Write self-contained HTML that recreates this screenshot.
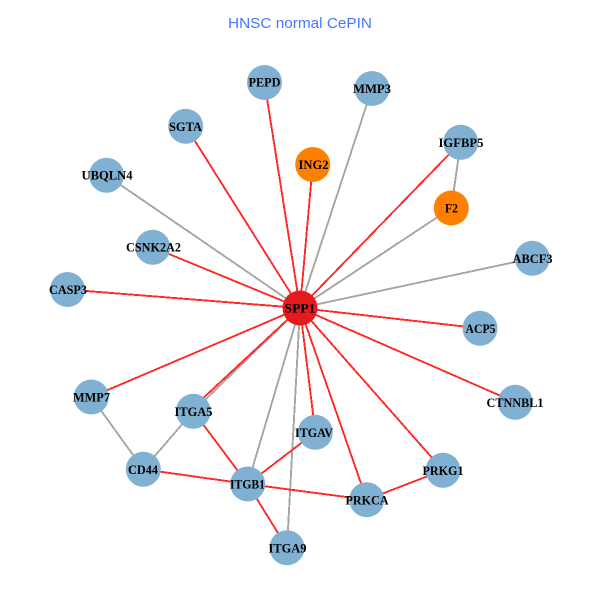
<!DOCTYPE html>
<html><head><meta charset="utf-8"><style>html,body{margin:0;padding:0;background:#fff}svg{display:block}
.l line{stroke-width:1.9}.r line{stroke:#ff2a2a}.g line{stroke:#a6a6a6}
.n text{font:bold 12.5px "Liberation Serif",serif;text-anchor:middle;fill:#000}
circle{fill:#80b1d3}</style></head><body>
<svg width="600" height="600" viewBox="0 0 600 600" xmlns="http://www.w3.org/2000/svg">
<rect width="600" height="600" fill="#fff"/>
<text x="300" y="28" text-anchor="middle" textLength="144" lengthAdjust="spacingAndGlyphs" font-family="Liberation Sans, sans-serif" font-size="14.4" fill="#4876ff">HNSC normal CePIN</text>
<g class="l g" shape-rendering="crispEdges">
<line x1="300" y1="308" x2="106.5" y2="175.3"/>
<line x1="300" y1="308" x2="372" y2="88.5"/>
<line x1="300" y1="308" x2="451.3" y2="208"/>
<line x1="300" y1="308" x2="532.3" y2="258.3"/>
<line x1="300" y1="308" x2="193.3" y2="411.3"/>
<line x1="300" y1="308" x2="247.7" y2="484"/>
<line x1="300" y1="308" x2="287" y2="547.7"/>
<line x1="460.7" y1="142.3" x2="451.3" y2="208"/>
<line x1="91.3" y1="397" x2="143.3" y2="469.3"/>
<line x1="193.3" y1="411.3" x2="143.3" y2="469.3"/>
</g>
<g class="l r" shape-rendering="crispEdges">
<line x1="300" y1="308" x2="264.5" y2="82.5"/>
<line x1="300" y1="308" x2="185.7" y2="126.3"/>
<line x1="300" y1="308" x2="152.7" y2="247.3"/>
<line x1="300" y1="308" x2="67.5" y2="289.5"/>
<line x1="300" y1="308" x2="312.7" y2="164.5"/>
<line x1="300" y1="308" x2="460.7" y2="142.3"/>
<line x1="300" y1="308" x2="91.3" y2="397"/>
<line x1="300" y1="308" x2="189" y2="411.3"/>
<line x1="300" y1="308" x2="480" y2="328.3"/>
<line x1="300" y1="308" x2="515.3" y2="402.3"/>
<line x1="300" y1="308" x2="315.3" y2="432.3"/>
<line x1="300" y1="308" x2="443" y2="470.3"/>
<line x1="300" y1="308" x2="366.7" y2="499.7"/>
<line x1="193.3" y1="411.3" x2="247.7" y2="484"/>
<line x1="143.3" y1="469.3" x2="247.7" y2="484"/>
<line x1="247.7" y1="484" x2="366.7" y2="499.7"/>
<line x1="247.7" y1="484" x2="315.3" y2="432.3"/>
<line x1="247.7" y1="484" x2="287" y2="547.7"/>
<line x1="366.7" y1="499.7" x2="443" y2="470.3"/>
</g>
<g class="n">
<circle cx="264.5" cy="82.5" r="17.5"/><circle cx="185.7" cy="126.3" r="17.5"/><circle cx="106.5" cy="175.3" r="17.5"/><circle cx="152.7" cy="247.3" r="17.5"/><circle cx="67.5" cy="289.5" r="17.5"/><circle cx="372" cy="88.5" r="17.5"/><circle cx="460.7" cy="142.3" r="17.5"/><circle cx="532.3" cy="258.3" r="17.5"/><circle cx="91.3" cy="397" r="17.5"/><circle cx="193.3" cy="411.3" r="17.5"/><circle cx="143.3" cy="469.3" r="17.5"/><circle cx="247.7" cy="484" r="17.5"/><circle cx="287" cy="547.7" r="17.5"/><circle cx="480" cy="328.3" r="17.5"/><circle cx="515.3" cy="402.3" r="17.5"/><circle cx="315.3" cy="432.3" r="17.5"/><circle cx="443" cy="470.3" r="17.5"/><circle cx="366.7" cy="499.7" r="17.5"/>
<circle cx="312.7" cy="164.5" r="17.5" style="fill:#ff7f00"/><circle cx="451.3" cy="208" r="17.5" style="fill:#ff7f00"/><circle cx="300" cy="308" r="17.5" style="fill:#e41a1c"/>
<text x="264.5" y="86.5" textLength="32" lengthAdjust="spacingAndGlyphs">PEPD</text>
<text x="185.5" y="131" textLength="33" lengthAdjust="spacingAndGlyphs">SGTA</text>
<text x="107" y="179.5" textLength="51" lengthAdjust="spacingAndGlyphs">UBQLN4</text>
<text x="153.5" y="251.5" textLength="55" lengthAdjust="spacingAndGlyphs">CSNK2A2</text>
<text x="68" y="294" textLength="38" lengthAdjust="spacingAndGlyphs">CASP3</text>
<text x="372" y="93" textLength="38" lengthAdjust="spacingAndGlyphs">MMP3</text>
<text x="461" y="147" textLength="45" lengthAdjust="spacingAndGlyphs">IGFBP5</text>
<text x="451.5" y="212.5" textLength="13" lengthAdjust="spacingAndGlyphs">F2</text>
<text x="313.5" y="169" textLength="30" lengthAdjust="spacingAndGlyphs">ING2</text>
<text x="532.5" y="263" textLength="40" lengthAdjust="spacingAndGlyphs">ABCF3</text>
<text x="300" y="312.5" textLength="31" lengthAdjust="spacingAndGlyphs">SPP1</text>
<text x="91.5" y="401.5" textLength="37" lengthAdjust="spacingAndGlyphs">MMP7</text>
<text x="193.5" y="416" textLength="38" lengthAdjust="spacingAndGlyphs">ITGA5</text>
<text x="143" y="474" textLength="30" lengthAdjust="spacingAndGlyphs">CD44</text>
<text x="247.5" y="488.5" textLength="35" lengthAdjust="spacingAndGlyphs">ITGB1</text>
<text x="287.5" y="552.5" textLength="38" lengthAdjust="spacingAndGlyphs">ITGA9</text>
<text x="480.5" y="333" textLength="30" lengthAdjust="spacingAndGlyphs">ACP5</text>
<text x="515" y="407" textLength="57" lengthAdjust="spacingAndGlyphs">CTNNBL1</text>
<text x="314" y="437" textLength="38" lengthAdjust="spacingAndGlyphs">ITGAV</text>
<text x="443" y="475" textLength="41" lengthAdjust="spacingAndGlyphs">PRKG1</text>
<text x="367" y="504.5" textLength="43" lengthAdjust="spacingAndGlyphs">PRKCA</text>
</g>
</svg>
</body></html>
